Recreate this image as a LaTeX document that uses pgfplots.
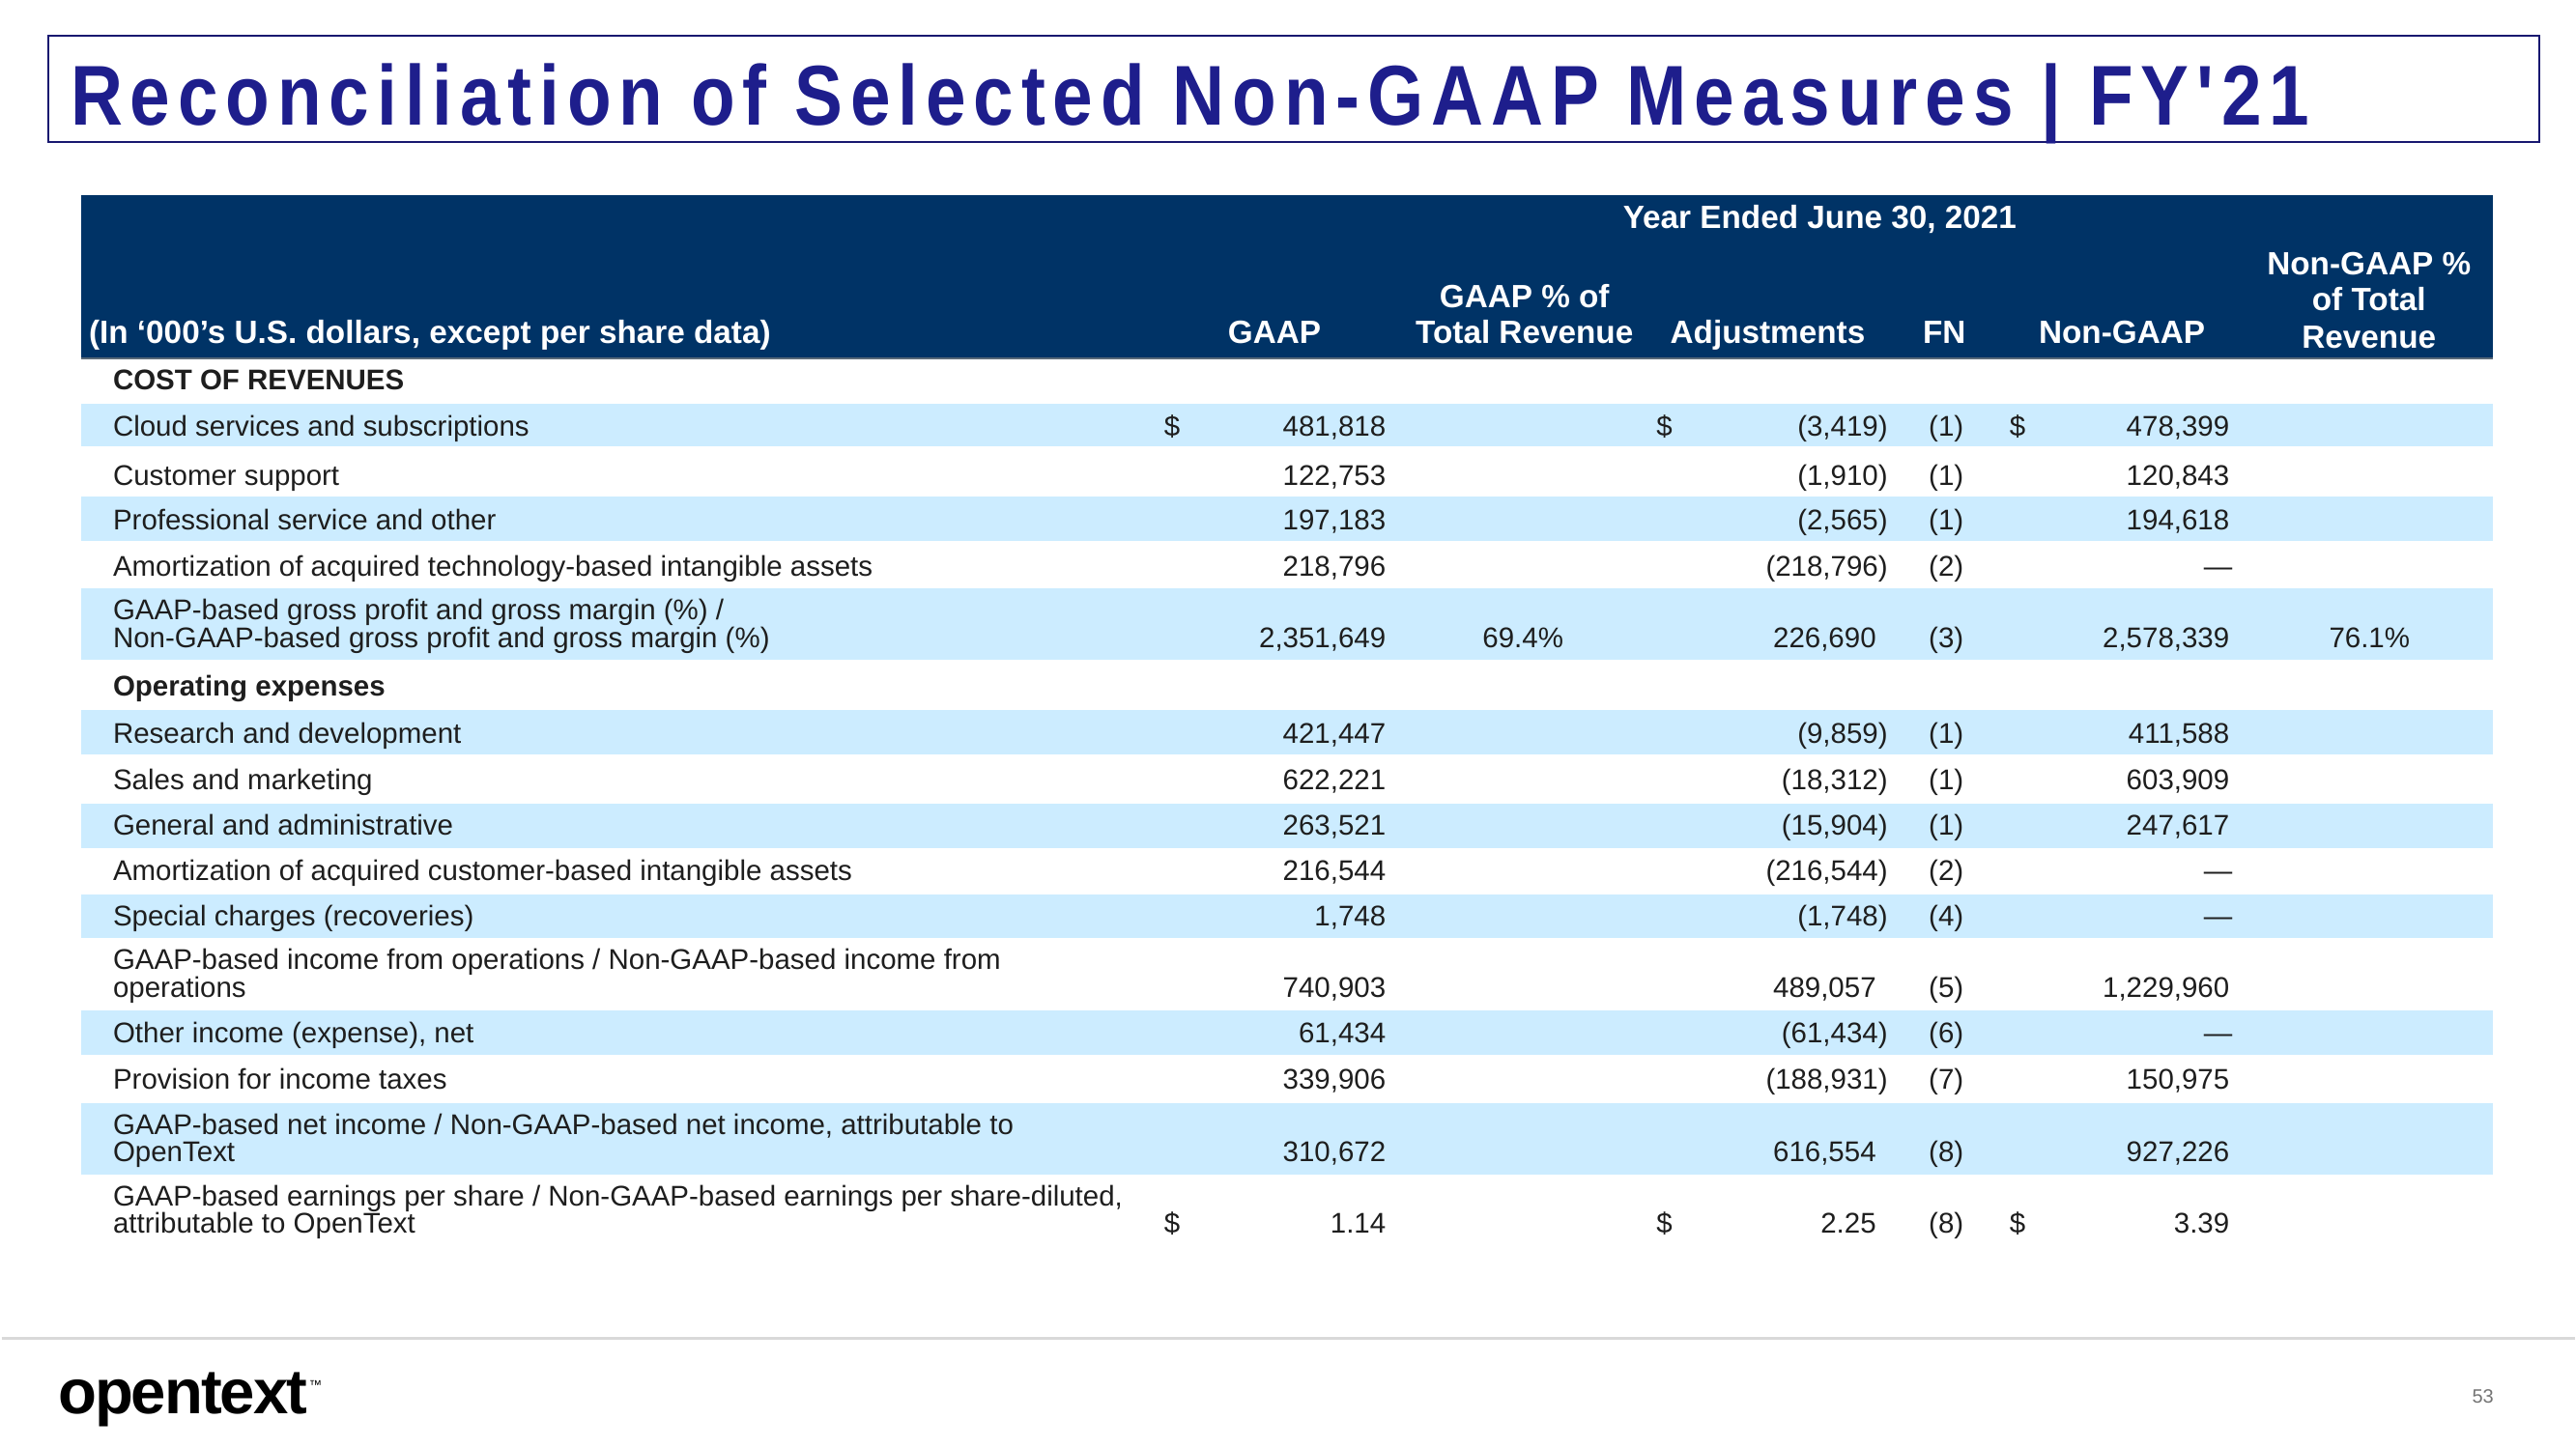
\documentclass[border=0pt]{standalone}
\usepackage{fontspec}
\setmainfont{Liberation Sans}
\newfontfamily\titlefont{Liberation Sans}[FakeStretch=0.85,LetterSpace=9]
\newfontfamily\logofont{Liberation Sans}[LetterSpace=-3]
\usepackage{pgfplots}
\pgfplotsset{compat=1.18}
\definecolor{navy}{RGB}{0,51,102}
\definecolor{band}{RGB}{204,236,255}
\definecolor{titleblue}{RGB}{30,30,140}
\definecolor{txt}{RGB}{30,30,30}
\newcommand\body{\fontsize{8.85}{10.6}\selectfont}
\newcommand\hdr{\fontsize{10.0}{11}\selectfont\bfseries}
\newcommand\lab[3][]{\node[anchor=base west,inner sep=0pt,font=\body,text=txt,#1] at (axis cs:115,#2) {#3};}
\newcommand\hd[4][base]{\node[anchor=#1,inner sep=0pt,font=\hdr,text=white] at (axis cs:#2,#3) {#4};}
\newcommand\dol[2]{\node[anchor=base west,inner sep=0pt,font=\body,text=txt] at (axis cs:#1,#2) {\$};}
\begin{document}
\begin{tikzpicture}
\begin{axis}[scale only axis,width=799.8pt,height=450pt,
  xmin=0,xmax=2666,ymin=0,ymax=1500,y dir=reverse,hide axis,clip=false,
  point meta=explicit symbolic,
  every node near coord/.append style={font=\body,text=txt,inner sep=0pt,anchor=base east}]
\fill[white] (axis cs:0,0) rectangle (axis cs:2666,1500);
% title box
\draw[line width=0.6pt,color=titleblue!80!black] (axis cs:49,37) rectangle (axis cs:2629,147);
\node[anchor=base west,inner sep=0pt,text=titleblue,font=\titlefont\bfseries\fontsize{26.4}{28}\selectfont] at (axis cs:71,130) {Reconciliation of Selected Non-GAAP Measures | FY'21};
% header
\fill[navy] (axis cs:83,202) rectangle (axis cs:2581,372);
\draw[line width=0.6pt,color=gray!70!navy] (axis cs:83,371) -- (axis cs:2581,371);
\hd[base]{1884}{237}{Year Ended June 30, 2021}
\hd[base west]{90}{356}{(In ‘000's U.S. dollars, except per share data)}
\hd{1319}{356}{GAAP}
\hd{1578}{319}{GAAP \% of}
\hd{1578}{356}{Total Revenue}
\hd{1830}{356}{Adjustments}
\hd{2013}{356}{FN}
\hd{2197}{356}{Non-GAAP}
\hd{2453}{285}{Non-GAAP \%}
\hd{2453}{322}{of Total}
\hd{2453}{361}{Revenue}
% bands
\fill[band] (axis cs:83,418) rectangle (axis cs:2581,463);
\fill[band] (axis cs:83,515) rectangle (axis cs:2581,561);
\fill[band] (axis cs:83,610) rectangle (axis cs:2581,684);
\fill[band] (axis cs:83,736) rectangle (axis cs:2581,782);
\fill[band] (axis cs:83,833) rectangle (axis cs:2581,879);
\fill[band] (axis cs:83,927) rectangle (axis cs:2581,972);
\fill[band] (axis cs:83,1047) rectangle (axis cs:2581,1093);
\fill[band] (axis cs:83,1143) rectangle (axis cs:2581,1217);
% row labels
\lab[font=\body\bfseries]{404}{COST OF REVENUES}
\lab{452}{Cloud services and subscriptions}
\lab{503}{Customer support}
\lab{549}{Professional service and other}
\lab{597}{Amortization of acquired technology-based intangible assets}
\lab{642}{GAAP-based gross profit and gross margin (\%) /}
\lab{671}{Non-GAAP-based gross profit and gross margin (\%)}
\lab[font=\body\bfseries]{721}{Operating expenses}
\lab{770}{Research and development}
\lab{818}{Sales and marketing}
\lab{865}{General and administrative}
\lab{913}{Amortization of acquired customer-based intangible assets}
\lab{960}{Special charges (recoveries)}
\lab{1005}{GAAP-based income from operations / Non-GAAP-based income from}
\lab{1034}{operations}
\lab{1081}{Other income (expense), net}
\lab{1129}{Provision for income taxes}
\lab{1176}{GAAP-based net income / Non-GAAP-based net income, attributable to}
\lab{1204}{OpenText}
\lab{1250}{GAAP-based earnings per share / Non-GAAP-based earnings per share-diluted,}
\lab{1278}{attributable to OpenText}
% dollar signs
\dol{1204}{452}
\dol{1714}{452}
\dol{2080}{452}
\dol{1204}{1278}
\dol{1714}{1278}
\dol{2080}{1278}
% GAAP
\addplot[draw=none,mark=none,nodes near coords] table[x=x,y=y,meta=v] {
x y v
1435 452 481,818
1435 503 122,753
1435 549 197,183
1435 597 218,796
1435 671 2,351,649
1435 770 421,447
1435 818 622,221
1435 865 263,521
1435 913 216,544
1435 960 1,748
1435 1034 740,903
1435 1081 61,434
1435 1129 339,906
1435 1204 310,672
1435 1278 1.14
};
% GAAP % and Non-GAAP %
\addplot[draw=none,mark=none,nodes near coords] table[x=x,y=y,meta=v] {
x y v
1619 671 69.4\%
2496 671 76.1\%
};
% Adjustments
\addplot[draw=none,mark=none,nodes near coords] table[x=x,y=y,meta=v] {
x y v
1955 452 (3,419)
1955 503 (1,910)
1955 549 (2,565)
1955 597 (218,796)
1943 671 226,690
1955 770 (9,859)
1955 818 (18,312)
1955 865 (15,904)
1955 913 (216,544)
1955 960 (1,748)
1943 1034 489,057
1955 1081 (61,434)
1955 1129 (188,931)
1943 1204 616,554
1943 1278 2.25
};
% FN
\addplot[draw=none,mark=none,nodes near coords,every node near coord/.append style={anchor=base}] table[x=x,y=y,meta=v] {
x y v
2015 452 (1)
2015 503 (1)
2015 549 (1)
2015 597 (2)
2015 671 (3)
2015 770 (1)
2015 818 (1)
2015 865 (1)
2015 913 (2)
2015 960 (4)
2015 1034 (5)
2015 1081 (6)
2015 1129 (7)
2015 1204 (8)
2015 1278 (8)
};
% Non-GAAP
\addplot[draw=none,mark=none,nodes near coords] table[x=x,y=y,meta=v] {
x y v
2309 452 478,399
2309 503 120,843
2309 549 194,618
2312 597 —
2309 671 2,578,339
2309 770 411,588
2309 818 603,909
2309 865 247,617
2312 913 —
2312 960 —
2309 1034 1,229,960
2312 1081 —
2309 1129 150,975
2309 1204 927,226
2309 1278 3.39
};
% footer
\draw[line width=0.9pt,color=black!15] (axis cs:0,1387) -- (axis cs:2666,1387);
\node[anchor=base west,inner sep=0pt,font=\logofont\bfseries\fontsize{19.6}{21}\selectfont] at (axis cs:58,1465) {opentext};
\node[anchor=base west,inner sep=0pt,font=\fontsize{4}{5}\selectfont] at (axis cs:318,1440) {™};
\node[inner sep=0pt,font=\fontsize{6}{7}\selectfont,text=black!55] at (axis cs:2571,1447) {53};
\end{axis}
\end{tikzpicture}
\end{document}
